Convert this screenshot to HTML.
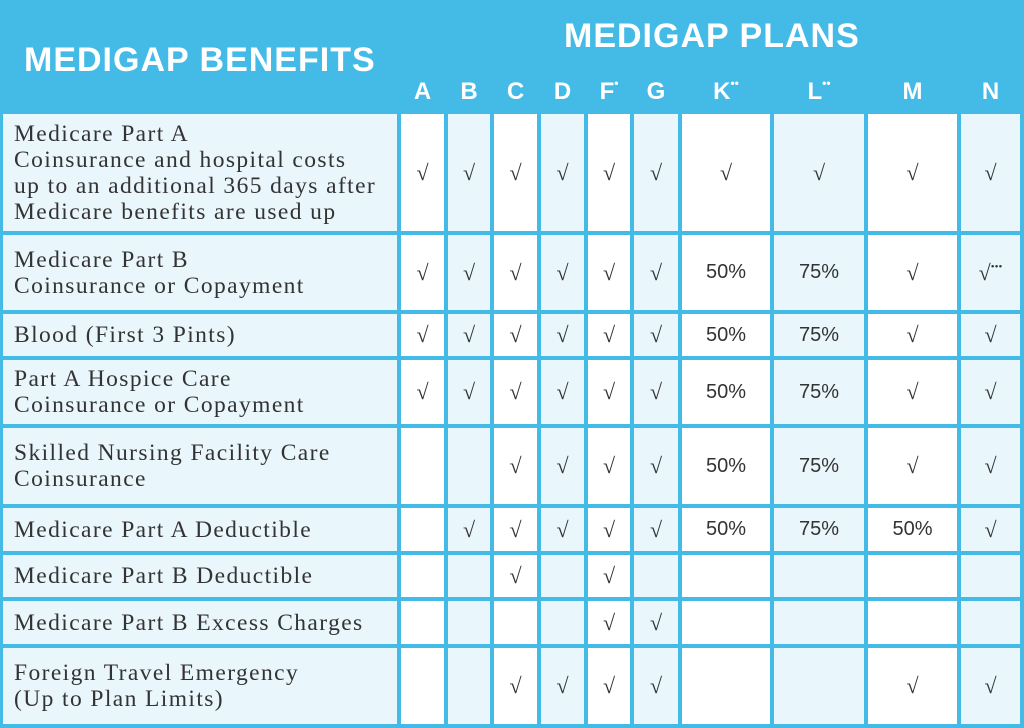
<!DOCTYPE html>
<html><head><meta charset="utf-8"><style>
body{margin:0;width:1024px;height:728px;background:#44bbe6;position:relative;overflow:hidden;font-family:"Liberation Serif",serif}
.c{position:absolute;box-sizing:border-box}
.lbl{color:#333;font-size:23.5px;letter-spacing:1.4px;line-height:26px;padding-left:11px;display:flex;align-items:center;white-space:nowrap}
.v{color:#333;display:flex;align-items:center;justify-content:center;font-size:22px}
.p{font-family:"Liberation Sans",sans-serif;font-size:20px}
.h{position:absolute;color:#fff;font-family:"Liberation Sans",sans-serif;font-weight:bold}
</style></head><body>
<div class="h" style="left:24px;top:41px;font-size:34px;letter-spacing:1px">MEDIGAP BENEFITS</div>
<div class="h" style="left:564px;top:17px;font-size:34px;letter-spacing:1px">MEDIGAP PLANS</div>
<div id="g"></div>
<script>
const plans=["A","B","C","D","F*","G","K**","L**","M","N"];
const benefits=["Medicare Part A<br>Coinsurance and hospital costs<br>up to an additional 365 days after<br>Medicare benefits are used up","Medicare Part B<br>Coinsurance or Copayment","Blood (First 3 Pints)","Part A Hospice Care<br>Coinsurance or Copayment","Skilled Nursing Facility Care<br>Coinsurance","Medicare Part A Deductible","Medicare Part B Deductible","Medicare Part B Excess Charges","Foreign Travel Emergency<br>(Up to Plan Limits)"];
const Y="√";
const values=[
[Y,Y,Y,Y,Y,Y,Y,Y,Y,Y],
[Y,Y,Y,Y,Y,Y,"50%","75%",Y,"√***"],
[Y,Y,Y,Y,Y,Y,"50%","75%",Y,Y],
[Y,Y,Y,Y,Y,Y,"50%","75%",Y,Y],
["","",Y,Y,Y,Y,"50%","75%",Y,Y],
["",Y,Y,Y,Y,Y,"50%","75%","50%",Y],
["","",Y,"",Y,"","","","",""],
["","","","",Y,Y,"","","",""],
["","",Y,Y,Y,Y,"","",Y,Y]];
const colX=[1.5,399,446,492,539,586,632,680,772,866,959,1022];
const rowY=[112,233,312,358,426,506,553,599,646,726];
const g=document.getElementById('g');
plans.forEach((p,j)=>{
 const d=document.createElement('div');d.className='h';
 
 
 const base=p.replace(/\*/g,''),st=p.slice(base.length);
 d.innerHTML=base+(st?'<span style="font-size:12px;vertical-align:top;position:relative;top:-2px">'+st.replace(/\*/g,'•')+'</span>':'');
 d.style.cssText+='font-size:24px;top:78px;left:'+colX[j+1]+'px;width:'+(colX[j+2]-colX[j+1])+'px;text-align:center';
 g.appendChild(d);
});
benefits.forEach((b,i)=>{
 const t=rowY[i]+2,h=rowY[i+1]-rowY[i]-4;
 const l=document.createElement('div');l.className='c lbl';
 
 
 l.style.cssText='left:3px;top:'+t+'px;width:'+(colX[1]-2-3)+'px;height:'+h+'px;background:#e9f6fc;overflow:hidden';
 l.innerHTML='<div>'+b+'</div>';g.appendChild(l);
 values[i].forEach((v,j)=>{
  const c=document.createElement('div');c.className='c v';
  
  
  c.style.cssText='left:'+(colX[j+1]+2)+'px;top:'+t+'px;width:'+(colX[j+2]-colX[j+1]-4)+'px;height:'+h+'px;background:'+(j%2?'#e9f6fc':'#fff');
  if(v.indexOf('%')>=0){c.innerHTML='<span class="p">'+v+'</span>';}
  else if(v.length>1){c.innerHTML=Y+'<span style="font-size:11px;vertical-align:top;position:relative;top:-6px">•••</span>';}
  else c.textContent=v;
  g.appendChild(c);
 });
});
</script>
</body></html>
